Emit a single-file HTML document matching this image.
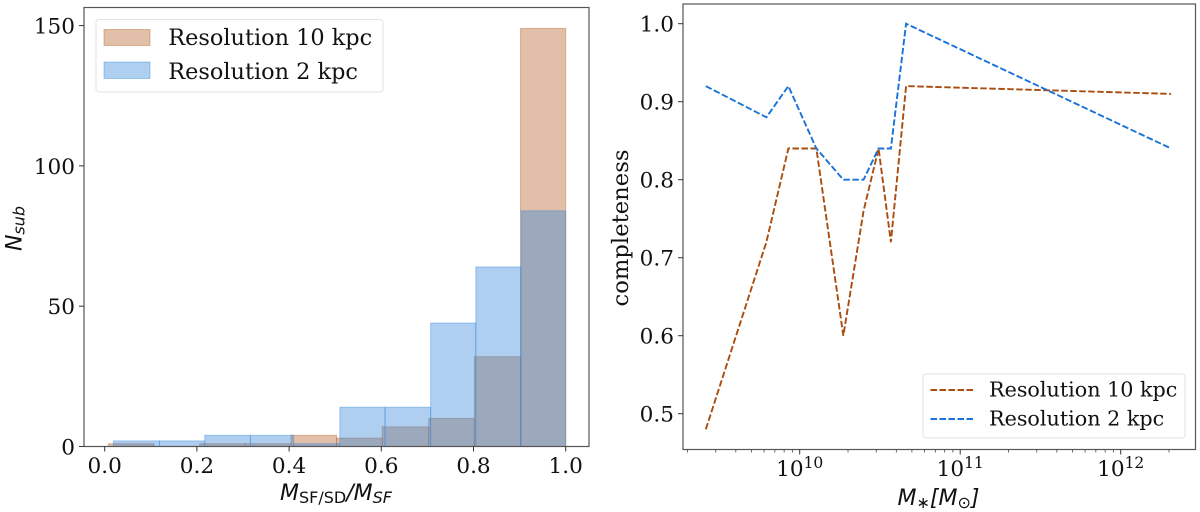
<!DOCTYPE html>
<html lang="en">
<head>
<meta charset="utf-8">
<title>Resolution comparison charts</title>
<style>
html,body{margin:0;padding:0;background:#fff;}
body{width:1200px;height:512px;overflow:hidden;}
svg{display:block;filter:blur(0.35px);}
.serif{font-family:"DejaVu Serif","Liberation Serif",serif;fill:#111;}
.sans{font-family:"DejaVu Sans","Liberation Sans",sans-serif;fill:#111;}
</style>
</head>
<body>
<svg id="figure" xmlns="http://www.w3.org/2000/svg" width="1200" height="512" viewBox="0 0 1200 512">
  <g id="left-marks"></g>
  <g id="right-marks"></g>

  <text class="sans" x="336" y="500" text-anchor="middle" font-size="22"><tspan font-style="italic">M</tspan><tspan font-size="16" dy="3">SF/SD</tspan><tspan font-style="italic" dy="-3">/M</tspan><tspan font-size="16" font-style="italic" dy="3">SF</tspan></text>
  <text class="sans" transform="translate(21.500,228.500) rotate(-90)" text-anchor="middle" font-size="22"><tspan font-style="italic">N</tspan><tspan font-size="16" font-style="italic" dy="3">sub</tspan></text>

  <text class="sans" x="938.500" y="505" text-anchor="middle" font-size="22"><tspan font-style="italic">M</tspan><tspan font-size="16" font-style="italic" dy="3">∗</tspan><tspan dy="-3" font-style="italic">[M</tspan><tspan font-size="16" dy="3">⊙</tspan><tspan dy="-3" font-style="italic">]</tspan></text>
  <text class="serif" transform="translate(628,228) rotate(-90)" text-anchor="middle" font-size="22.7">completeness</text>

  <g>
    <rect x="96" y="19.5" width="287" height="72.5" rx="3" fill="#fff" fill-opacity="0.8" stroke="#e2e2e2" stroke-width="1"/>
    <rect x="104" y="29.5" width="46" height="16" fill="#b65f25" fill-opacity="0.4" stroke="#b65f25" stroke-opacity="0.4"/>
    <text class="serif" x="168.300" y="45" font-size="22.4">Resolution 10 kpc</text>
    <rect x="104" y="62" width="46" height="16.500" fill="#3487d9" fill-opacity="0.4" stroke="#3487d9" stroke-opacity="0.4"/>
    <text class="serif" x="168.300" y="79" font-size="22.4">Resolution 2 kpc</text>
  </g>

  <g>
    <rect x="923" y="374" width="262" height="64" rx="3" fill="#fff" fill-opacity="0.8" stroke="#e2e2e2" stroke-width="1"/>
    <line x1="930.500" y1="390" x2="973" y2="390" stroke="#ab4c10" stroke-width="1.900" stroke-dasharray="6.500 2.500"/>
    <text class="serif" x="989" y="396.500" font-size="20.7">Resolution 10 kpc</text>
    <line x1="930.500" y1="419" x2="973" y2="419" stroke="#1a72d8" stroke-width="1.900" stroke-dasharray="6.500 2.500"/>
    <text class="serif" x="989" y="425.500" font-size="20.7">Resolution 2 kpc</text>
  </g>
</svg>

<script>
// Histogram data
const histEdges10 = [0.008, 0.107, 0.206, 0.305, 0.404, 0.503, 0.602, 0.703, 0.802, 0.902, 1.0];
const histCounts10 = [1, 0, 1, 1, 4, 3, 7, 10, 32, 149];
const histEdges2 = [0.019, 0.119, 0.217, 0.316, 0.41, 0.51, 0.608, 0.707, 0.805, 0.903, 1.0];
const histCounts2 = [2, 2, 4, 4, 1, 14, 14, 44, 64, 84];
const histXTicks = [0, 0.2, 0.4, 0.6, 0.8, 1.0];
const histXTickLabels = ['0.0', '0.2', '0.4', '0.6', '0.8', '1.0'];
const histYTicks = [0, 50, 100, 150];
const histYTickLabels = ['0', '50', '100', '150'];

// Completeness data
const massValues = [2.6e9, 6.2e9, 8.5e9, 1.27e10, 1.87e10, 2.5e10, 3.1e10, 3.7e10, 4.6e10, 2.06e12];
const completeness10 = [0.48, 0.72, 0.84, 0.84, 0.60, 0.76, 0.84, 0.72, 0.92, 0.91];
const completeness2 = [0.92, 0.88, 0.92, 0.84, 0.80, 0.80, 0.84, 0.84, 1.0, 0.84];
const lineYTicks = [0.5, 0.6, 0.7, 0.8, 0.9, 1.0];
const lineYTickLabels = ['0.5', '0.6', '0.7', '0.8', '0.9', '1.0'];
const lineXExponents = [10, 11, 12];
const lineMinorDecades = [9, 10, 11, 12];
const lineMinorMultipliers = [2, 3, 4, 5, 6, 7, 8, 9];

const NS = 'http://www.w3.org/2000/svg';
const leftG = document.getElementById('left-marks');
const rightG = document.getElementById('right-marks');

function make(parent, tag, attrs, text) {
  const el = document.createElementNS(NS, tag);
  for (const k in attrs) el.setAttribute(k, attrs[k]);
  if (text !== undefined) el.textContent = text;
  parent.appendChild(el);
  return el;
}

// Axis functions
const histBox = { l: 84, r: 589, t: 7.5, b: 446.5 };
const lineBox = { l: 683, r: 1195.5, t: 4, b: 449.5 };
const histX = v => 104.7 + 461 * v;
const histY = v => 446.5 - 2.806 * v;
const lineX = v => 799.7 + 160.5 * (Math.log10(v) - 10);
const lineY = v => 23.7 + (1 - v) * 780;

// Histogram bars
function drawBars(edges, counts, color, label) {
  counts.forEach((c, i) => {
    if (c <= 0) return;
    const x0 = histX(edges[i]);
    const x1 = histX(edges[i + 1]);
    const bar = make(leftG, 'rect', {
      x: x0, y: histY(c), width: x1 - x0, height: histY(0) - histY(c),
      fill: color, 'fill-opacity': 0.4, stroke: color, 'stroke-opacity': 0.4, 'stroke-width': 1
    });
    
    
  });
}
drawBars(histEdges10, histCounts10, '#b65f25', '10kpc');
drawBars(histEdges2, histCounts2, '#3487d9', '2kpc');

// Histogram frame
const histFrame = make(leftG, 'rect', {
  x: histBox.l, y: histBox.t, width: histBox.r - histBox.l, height: histBox.b - histBox.t,
  fill: 'none', stroke: '#555', 'stroke-width': 1.2
});



// Histogram ticks
histXTicks.forEach((v, i) => {
  const tick = make(leftG, 'line', { x1: histX(v), x2: histX(v), y1: histBox.b, y2: histBox.b + 5, stroke: '#333', 'stroke-width': 1 });
  
  
  const lab = make(leftG, 'text', { x: histX(v), y: 473, 'text-anchor': 'middle', 'font-size': 21.6, class: 'serif' }, histXTickLabels[i]);
  
  
});
histYTicks.forEach((v, i) => {
  const tick = make(leftG, 'line', { x1: histBox.l - 5, x2: histBox.l, y1: histY(v), y2: histY(v), stroke: '#333', 'stroke-width': 1 });
  
  
  const lab = make(leftG, 'text', { x: 75, y: histY(v) + 8, 'text-anchor': 'end', 'font-size': 21.6, class: 'serif' }, histYTickLabels[i]);
  
  
});

// Completeness lines
function drawLine(xs, ys, color, label) {
  const pts = xs.map((x, i) => lineX(x) + ',' + lineY(ys[i])).join(' ');
  const line = make(rightG, 'polyline', {
    points: pts, fill: 'none', stroke: color, 'stroke-width': 1.9, 'stroke-dasharray': '6.5 2.5'
  });
  
  
}
drawLine(massValues, completeness10, '#ab4c10', 'resolution-10kpc');
drawLine(massValues, completeness2, '#1a72d8', 'resolution-2kpc');

// Completeness frame
const lineFrame = make(rightG, 'rect', {
  x: lineBox.l, y: lineBox.t, width: lineBox.r - lineBox.l, height: lineBox.b - lineBox.t,
  fill: 'none', stroke: '#555', 'stroke-width': 1.2
});



// Completeness ticks
lineYTicks.forEach((v, i) => {
  const tick = make(rightG, 'line', { x1: lineBox.l - 5, x2: lineBox.l, y1: lineY(v), y2: lineY(v), stroke: '#333', 'stroke-width': 1 });
  
  
  const lab = make(rightG, 'text', { x: 674, y: lineY(v) + 8, 'text-anchor': 'end', 'font-size': 21.6, class: 'serif' }, lineYTickLabels[i]);
  
  
});
lineXExponents.forEach(e => {
  const x = lineX(Math.pow(10, e));
  const tick = make(rightG, 'line', { x1: x, x2: x, y1: lineBox.b, y2: lineBox.b + 5, stroke: '#333', 'stroke-width': 1 });
  
  
  const lab = make(rightG, 'text', { x: x, y: 476, 'text-anchor': 'middle', 'font-size': 21.6, class: 'serif' });
  
  
  make(lab, 'tspan', {}, '10');
  make(lab, 'tspan', { 'font-size': 15.5, dy: -8 }, String(e));
});
lineMinorDecades.forEach(d => {
  lineMinorMultipliers.forEach(m => {
    const x = lineX(m * Math.pow(10, d));
    if (x < lineBox.l || x > lineBox.r) return;
    const tick = make(rightG, 'line', { x1: x, x2: x, y1: lineBox.b, y2: lineBox.b + 3, stroke: '#444', 'stroke-width': 0.8 });
    
    
  });
});
</script>
</body>
</html>
